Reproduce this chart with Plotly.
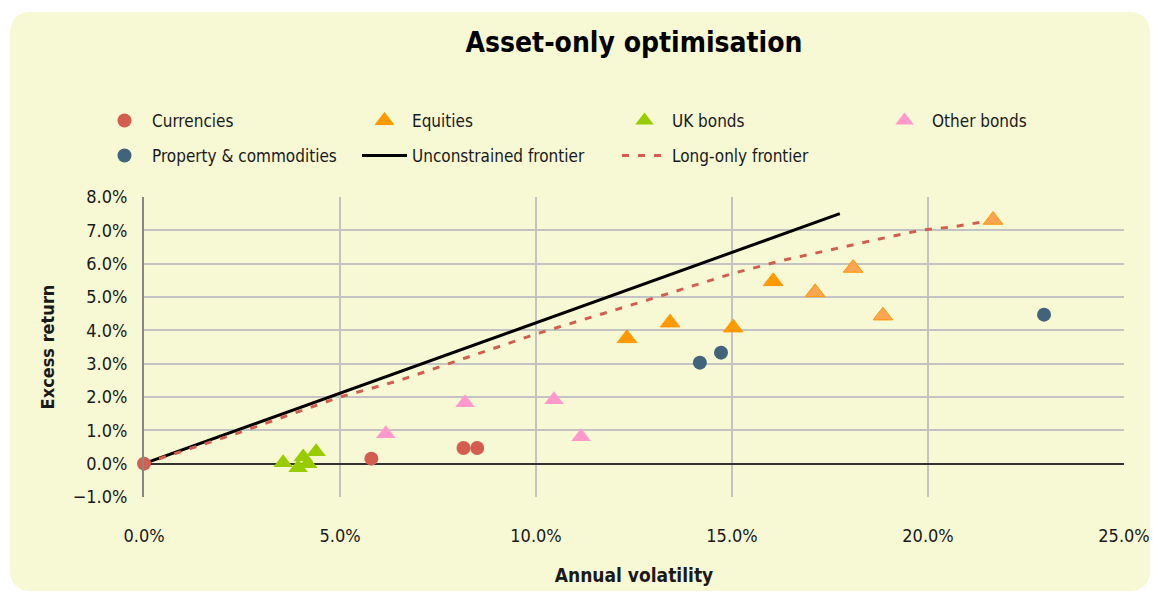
import plotly.graph_objects as go

# volatility (%) / excess return (%)
cur_vol = [0.0, 5.8, 8.15, 8.5]
cur_ret = [0.0, 0.15, 0.47, 0.47]

eq_vol = [12.32, 13.42, 15.03, 16.05, 17.12, 18.09, 18.85, 21.66]
eq_ret = [3.76, 4.23, 4.08, 5.47, 5.14, 5.87, 4.44, 7.31]

ukb_vol = [3.55, 3.93, 4.06, 4.18, 4.39]
ukb_ret = [0.03, -0.12, 0.2, 0.0, 0.36]

oth_vol = [6.17, 8.19, 10.46, 11.15]
oth_ret = [0.9, 1.83, 1.92, 0.81]

prop_vol = [14.18, 14.72, 22.96]
prop_ret = [3.03, 3.33, 4.47]

unc_vol = [0.0, 17.75]
unc_ret = [0.0, 7.5]

lo_vol = [0.0, 2.45, 5.0, 6.5, 8.0, 10.0, 12.6, 15.0, 16.3, 17.7, 18.6, 19.8, 20.6, 21.5]
lo_ret = [0.0, 0.94, 2.0, 2.49, 3.09, 3.89, 4.82, 5.7, 6.1, 6.47, 6.7, 7.0, 7.1, 7.27]

BG = "#F7F8D4"
FONT = "DejaVu Sans Condensed"
RED = "#D35E50"

fig = go.Figure()
# lines first so the markers sit on top of them
fig.add_trace(go.Scatter(x=unc_vol, y=unc_ret, mode="lines", name="Unconstrained frontier",
                         line=dict(color="black", width=3), legend="legend2", legendrank=6))
fig.add_trace(go.Scatter(x=lo_vol, y=lo_ret, mode="lines", name="Long-only frontier",
                         line=dict(color=RED, width=3, dash="7px,9px"), legend="legend2", legendrank=7))
fig.add_trace(go.Scatter(x=cur_vol, y=cur_ret, mode="markers", name="Currencies", legendrank=1,
                         marker=dict(symbol="circle", size=14, color=RED), cliponaxis=False))
eq_fill = ["#FF9900"] * 4 + ["#F9A552"] * 4
fig.add_trace(go.Scatter(x=eq_vol, y=eq_ret, mode="markers", name="Equities", legendrank=2,
                         marker=dict(symbol="triangle-up", size=17, color=eq_fill,
                                     line=dict(color="#FF9900", width=1))))
fig.add_trace(go.Scatter(x=ukb_vol, y=ukb_ret, mode="markers", name="UK bonds", legendrank=3,
                         marker=dict(symbol="triangle-up", size=17, color="#99CC00")))
fig.add_trace(go.Scatter(x=oth_vol, y=oth_ret, mode="markers", name="Other bonds", legendrank=4,
                         marker=dict(symbol="triangle-up", size=17, color="#FF99CC")))
fig.add_trace(go.Scatter(x=prop_vol, y=prop_ret, mode="markers", name="Property & commodities",
                         marker=dict(symbol="circle", size=14, color="#41647B"),
                         legend="legend2", legendrank=5))

# rounded chart-area background, converted from pixels to paper coordinates
L, R, T, B = 144, 1124, 197, 497
def fx(px): return (px - L) / (R - L)
def fy(py): return (B - py) / (B - T)
x0, x1, y0, y1, r = 10, 1150, 12, 591, 22
path = (f"M {fx(x0 + r)},{fy(y0)} L {fx(x1 - r)},{fy(y0)} Q {fx(x1)},{fy(y0)} {fx(x1)},{fy(y0 + r)} "
        f"L {fx(x1)},{fy(y1 - r)} Q {fx(x1)},{fy(y1)} {fx(x1 - r)},{fy(y1)} "
        f"L {fx(x0 + r)},{fy(y1)} Q {fx(x0)},{fy(y1)} {fx(x0)},{fy(y1 - r)} "
        f"L {fx(x0)},{fy(y0 + r)} Q {fx(x0)},{fy(y0)} {fx(x0 + r)},{fy(y0)} Z")

legend_common = dict(orientation="h", xanchor="left", yanchor="middle",
                     font=dict(family=FONT, size=17, color="#1a1a1a"),
                     bgcolor="rgba(0,0,0,0)", itemwidth=45,
                     entrywidth=200, entrywidthmode="pixels", traceorder="normal")

fig.update_layout(
    width=1153, height=593,
    margin=dict(l=L, r=1153 - R, t=T, b=593 - B),
    paper_bgcolor="white", plot_bgcolor="rgba(0,0,0,0)",
    font=dict(family=FONT, size=16, color="#1a1a1a"),
    title=dict(text="<b>Asset-only optimisation</b>", x=fx(634), xref="paper", xanchor="center",
               y=1 - 42 / 593, yanchor="middle", font=dict(family=FONT, size=28, color="black")),
    shapes=[dict(type="path", path=path, xref="paper", yref="paper", layer="below",
                 fillcolor=BG, line=dict(width=0))],
    legend=dict(x=fx(97), y=fy(121), **legend_common),
    legend2=dict(x=fx(97), y=fy(156), **legend_common),
    xaxis=dict(range=[0, 25], dtick=5, tickformat=".1f", ticksuffix="%",
               showgrid=True, gridcolor="#C3C3C3", gridwidth=1.5, zeroline=False,
               showline=False, ticklabelstandoff=26, automargin=False,
               tickfont=dict(family=FONT, size=18),
               title=dict(text="<b>Annual volatility</b>", standoff=23,
                          font=dict(family=FONT, size=19))),
    yaxis=dict(range=[-1, 8], dtick=1, tickformat=".1f", ticksuffix="%",
               showgrid=True, gridcolor="#C3C3C3", gridwidth=1.5,
               zeroline=True, zerolinecolor="#333333", zerolinewidth=1.5,
               showline=True, linecolor="#868686", linewidth=2, ticklabelstandoff=11,
               automargin=False, tickfont=dict(family=FONT, size=18),
               title=dict(text="<b>Excess return</b>", standoff=13,
                          font=dict(family=FONT, size=18))),
)

# drop the default page margin so the figure sits at the window's top-left corner
fig.write_html("out.html", config={"displayModeBar": False},
               post_script="document.body.style.margin='0';")
